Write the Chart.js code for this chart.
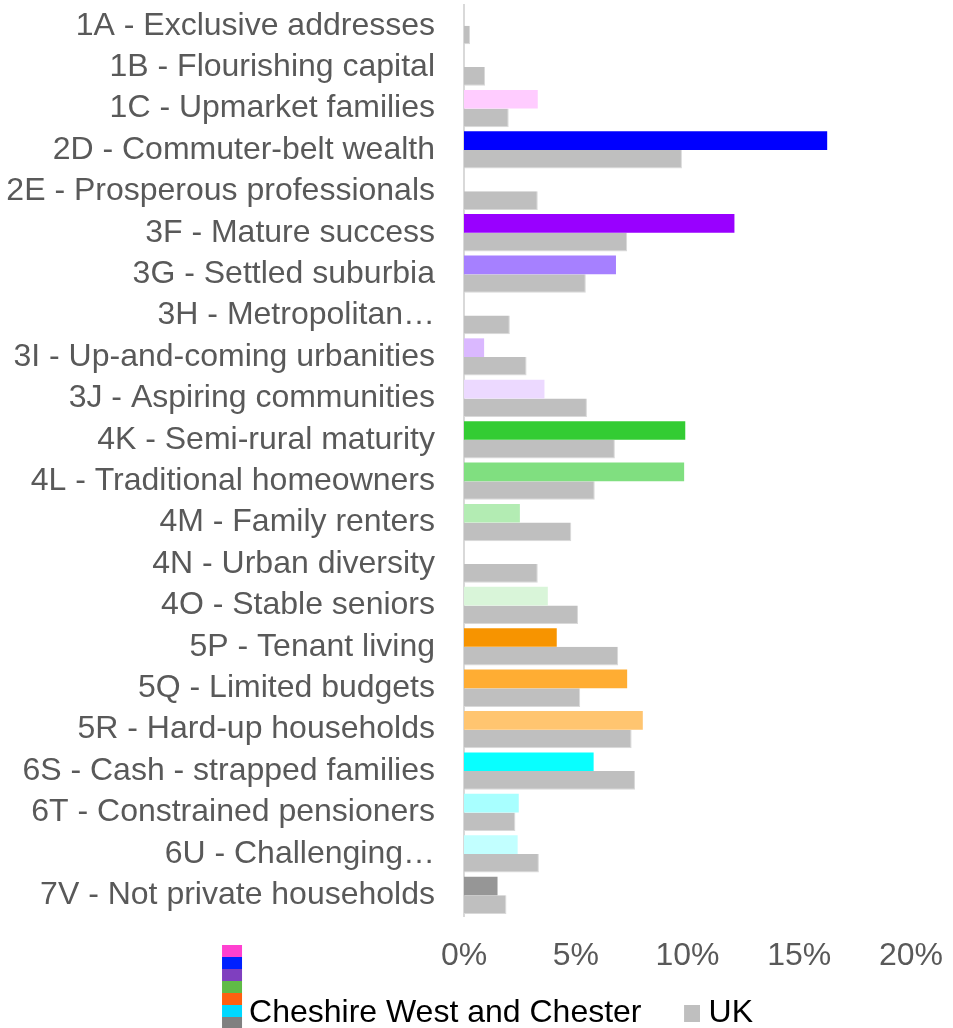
<!DOCTYPE html>
<html>
<head>
<meta charset="utf-8">
<script src="https://cdn.jsdelivr.net/npm/chart.js@4/dist/chart.umd.min.js"></script>
<style>
  html, body { margin: 0; padding: 0; background: #ffffff; }
  #wrap { width: 953px; height: 1028px; position: relative; }
</style>
</head>
<body>
<div id="wrap"><canvas id="segmentChart"></canvas></div>
<script>
// Categorías (tal como aparecen en el eje)
const categories = [
    '1A - Exclusive addresses',
    '1B - Flourishing capital',
    '1C - Upmarket families',
    '2D - Commuter-belt wealth',
    '2E - Prosperous professionals',
    '3F - Mature success',
    '3G - Settled suburbia',
    '3H - Metropolitan\u2026',
    '3I - Up-and-coming urbanities',
    '3J - Aspiring communities',
    '4K - Semi-rural maturity',
    '4L - Traditional homeowners',
    '4M - Family renters',
    '4N - Urban diversity',
    '4O - Stable seniors',
    '5P - Tenant living',
    '5Q - Limited budgets',
    '5R - Hard-up households',
    '6S - Cash - strapped families',
    '6T - Constrained pensioners',
    '6U - Challenging\u2026',
    '7V - Not private households'
];

// Porcentajes
const cheshireValues = [0, 0, 3.3, 16.25, 0, 12.1, 6.8, 0, 0.9, 3.6, 9.9, 9.85, 2.5, 0, 3.75, 4.15, 7.3, 8.0, 5.8, 2.45, 2.4, 1.5];
const ukValues = [0.27, 0.94, 2.0, 9.75, 3.3, 7.3, 5.45, 2.05, 2.8, 5.5, 6.75, 5.85, 4.8, 3.3, 5.1, 6.9, 5.2, 7.5, 7.65, 2.3, 3.35, 1.9];

const xTicks = [0, 5, 10, 15, 20];

const seriesNames = ['Cheshire West and Chester', 'UK'];

// Colores por segmento
const cheshireColors = [
    '#FF99E6', '#FF66CC', '#FFCCFF', '#0000FF', '#3366FF', '#9900FF', '#A680FF', '#C299FF',
    '#DAB8FF', '#ECD9FF', '#33CC33', '#80DF80', '#B3ECB3', '#C6F0C6', '#D9F5D9',
    '#F79400', '#FFAD33', '#FFC570', '#08FFFF', '#A8FFFF', '#C2FFFF', '#969696'
];
const ukColor = '#BFBFBF';

// Colores del cuadro de leyenda apilado
const legendBands = ['#FF40D0', '#0020FF', '#7F3FBF', '#60BB46', '#FF6010', '#00D8FF', '#808080'];

const textColor = '#595959';
const fontFamily = "'Liberation Sans', Arial, sans-serif";

// Lienzo vacío: el cuadro multicolor se pinta con el plugin de abajo
const blankSwatch = document.createElement('canvas');
blankSwatch.width = 1;
blankSwatch.height = 1;

// Cuadrado gris del UK, desplazado a la derecha dentro del lienzo
function makeSquareSwatch(color) {
    const c = document.createElement('canvas');
    c.width = 36;
    c.height = 17;
    const g = c.getContext('2d');
    g.fillStyle = color;
    g.fillRect(20, 0, 16, 17);
    return c;
}
const ukSwatch = makeSquareSwatch(ukColor);

// Dibuja la pila de colores de la leyenda (sobresale hacia arriba, como en Excel)
const bandLegendPlugin = {
    id: 'bandLegend',
    afterDraw(chart) {
        const lg = chart.legend;
        if (!lg || !lg.legendHitBoxes || !lg.legendHitBoxes.length) return;
        const hb = lg.legendHitBoxes[0];
        const c = chart.ctx;
        const bandH = 12;
        const top = 945;
        c.save();
        legendBands.forEach((col, i) => {
            c.fillStyle = col;
            c.fillRect(hb.left + 10, top + i * bandH, 20, bandH);
        });
        c.restore();
    }
};

const ctx = document.getElementById('segmentChart');

new Chart(ctx, {
    type: 'bar',
    data: {
        labels: categories,
        datasets: [
            {
                label: seriesNames[0],
                data: cheshireValues,
                backgroundColor: cheshireColors,
                borderWidth: 0,
                categoryPercentage: 0.9,
                barPercentage: 1.0
            },
            {
                label: seriesNames[1],
                data: ukValues,
                backgroundColor: ukColor,
                borderColor: '#D9D9D9',
                borderWidth: { top: 0, bottom: 1, left: 0, right: 1 },
                categoryPercentage: 0.9,
                barPercentage: 1.0
            }
        ]
    },
    options: {
        indexAxis: 'y',
        responsive: true,
        maintainAspectRatio: false,
        animation: false,
        layout: {
            padding: { left: 6, right: -6, top: 5, bottom: -11 }
        },
        scales: {
            x: {
                min: 0,
                max: 20,
                afterBuildTicks: (scale) => {
                    scale.ticks = xTicks.map(v => ({ value: v }));
                },
                afterFit: (scale) => {
                    scale.paddingRight = 42;
                    scale.height = 51;
                },
                grid: { display: false, drawTicks: false },
                border: { display: false },
                ticks: {
                    color: textColor,
                    padding: 21,
                    font: { family: fontFamily, size: 32 },
                    callback: (v) => v + '%'
                }
            },
            y: {
                afterFit: (scale) => {
                    scale.width = 458;
                    scale.paddingTop = 0;
                    scale.paddingBottom = 0;
                },
                grid: { display: false, drawTicks: false },
                border: { display: true, color: '#D9D9D9', width: 2 },
                ticks: {
                    color: textColor,
                    padding: 29,
                    autoSkip: false,
                    font: { family: fontFamily, size: 32 }
                }
            }
        },
        plugins: {
            legend: {
                position: 'bottom',
                labels: {
                    color: textColor,
                    padding: 30,
                    usePointStyle: true,
                    pointStyleWidth: 21,
                    font: { family: fontFamily, size: 32 },
                    generateLabels: (chart) => chart.data.datasets.map((ds, i) => ({
                        text: ds.label,
                        fillStyle: i === 0 ? legendBands[0] : ukColor,
                        strokeStyle: 'transparent',
                        lineWidth: 0,
                        pointStyle: i === 0 ? blankSwatch : ukSwatch,
                        hidden: false,
                        datasetIndex: i
                    }))
                }
            },
            tooltip: { enabled: false }
        }
    },
    plugins: [bandLegendPlugin]
});
</script>
</body>
</html>
